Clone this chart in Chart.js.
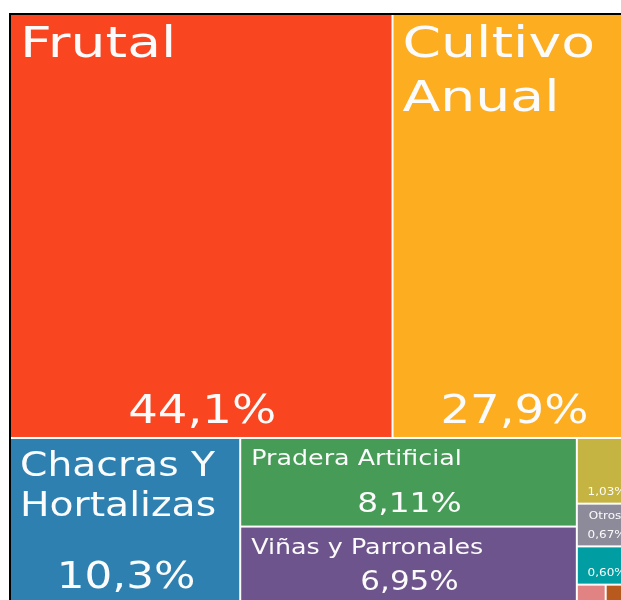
<!DOCTYPE html>
<html>
<head>
<meta charset="utf-8">
<script src="https://cdn.jsdelivr.net/npm/chart.js@4.4.1/dist/chart.umd.min.js"></script>
<style>
html,body{margin:0;padding:0;overflow:hidden;background:#ffffff;width:621px;height:600px}
#wrap{position:absolute;left:0;top:0;width:640px;height:606px}
</style>
</head>
<body>
<div id="wrap"><canvas id="c" width="640" height="606"></canvas></div>
<script>
// ---- data ----
const categories = ["Frutal", "Cultivo Anual", "Chacras Y Hortalizas", "Pradera Artificial", "Viñas y Parronales", "", "Otros", "", "", ""];
const shares = [44.1, 27.9, 10.3, 8.11, 6.95, 1.03, 0.67, 0.60, 0.14, 0.14];
const colors = ["#F94620", "#FCAE20", "#2D80B0", "#469B57", "#6E548C", "#C5B442", "#8D8B99", "#009EA2", "#E18283", "#B85A1E"];

// ---- treemap strip layout (order of strips and their orientation) ----
const STRIPS = [
  {dir: 'row', n: 2}, {dir: 'col', n: 1}, {dir: 'col', n: 2},
  {dir: 'row', n: 1}, {dir: 'row', n: 1}, {dir: 'row', n: 1}, {dir: 'row', n: 2}
];

function layout(values) {
  let x0 = 0, y0 = 0, x1 = 100, y1 = 100;
  let rem = values.reduce((a, b) => a + b, 0);
  const rects = [];
  let i = 0;
  for (const s of STRIPS) {
    const idx = [];
    for (let k = i; k < Math.min(i + s.n, values.length); k++) idx.push(k);
    const sv = idx.reduce((a, k) => a + values[k], 0);
    if (s.dir === 'row') {
      const h = (y1 - y0) * sv / rem;
      let x = x0;
      idx.forEach(k => {
        const w = (x1 - x0) * values[k] / sv;
        rects[k] = {x0: x, x1: x + w, y0: y0, y1: y0 + h};
        x += w;
      });
      y0 += h;
    } else {
      const w = (x1 - x0) * sv / rem;
      let y = y0;
      idx.forEach(k => {
        const h = (y1 - y0) * values[k] / sv;
        rects[k] = {x0: x0, x1: x0 + w, y0: y, y1: y + h};
        y += h;
      });
      x0 += w;
    }
    rem -= sv;
    i += s.n;
  }
  return rects;
}

const cells = layout(shares);

function fmtPct(v) {
  const s = v >= 10 ? v.toFixed(1) : v.toFixed(2);
  return s.replace('.', ',') + '%';
}

const FONT = '"DejaVu Sans"';

function tier(w, h) {
  const a = w * h;
  if (a >= 60000) return {t: 43.5, lh: 54, tb: 43, v: 39.5, vb: 15, pad: 10, sxT: 1.27, sxV: 1.18};
  if (a >= 33000) return {t: 33, lh: 40, tb: 38, v: 37, vb: 15, pad: 10, sxT: 1.19, sxV: 1.18};
  if (a >= 15000) return {t: 20.6, lh: 26, tb: 27, v: Math.min(27.4, 0.34 * h), vb: 0.17 * h, pad: 11, sxT: 1.23, sxV: 1.2};
  return {t: 10, lh: 12, tb: 15.5, v: 10, vb: 8.5, pad: 12, sxT: 1.2, sxV: 1.2};
}

function textW(ctx, str, size, sx) {
  ctx.font = size + 'px ' + FONT;
  return ctx.measureText(str).width * sx;
}

function drawText(ctx, str, x, y, size, align, sx) {
  ctx.save();
  ctx.font = size + 'px ' + FONT;
  ctx.translate(x, y);
  ctx.scale(sx, 1);
  ctx.textAlign = align;
  ctx.textBaseline = 'alphabetic';
  ctx.fillText(str, 0, 0);
  ctx.restore();
}

function wrap(ctx, str, size, maxW, sx) {
  const words = str.split(' ');
  const lines = [];
  let cur = '';
  words.forEach(w => {
    const test = cur ? cur + ' ' + w : w;
    if (textW(ctx, test, size, sx) <= maxW || !cur) cur = test;
    else { lines.push(cur); cur = w; }
  });
  if (cur) lines.push(cur);
  return lines.map(l => {
    if (textW(ctx, l, size, sx) <= maxW) return l;
    let t = l;
    while (t.length > 1 && textW(ctx, t + '...', size, sx) > maxW) t = t.slice(0, -1);
    return t + '...';
  });
}

const treemapPlugin = {
  id: 'treemapCells',
  afterDatasetsDraw(chart) {
    const ctx = chart.ctx;
    const xs = chart.scales.x, ys = chart.scales.y;
    const area = chart.chartArea;
    ctx.save();
    cells.forEach((r, k) => {
      const px0 = xs.getPixelForValue(r.x0), px1 = xs.getPixelForValue(r.x1);
      const py0 = ys.getPixelForValue(r.y0), py1 = ys.getPixelForValue(r.y1);
      const w = px1 - px0, h = py1 - py0;
      ctx.fillStyle = colors[k];
      ctx.fillRect(px0 + 1, py0 + 1, w - 2, h - 2);
      if (w < 25 || h < 20) return;
      const tr = tier(w, h);
      ctx.save();
      ctx.beginPath();
      ctx.rect(px0 + 1, py0 + 1, w - 2, h - 2);
      ctx.clip();
      ctx.fillStyle = '#fbfbfb';
      const name = categories[k];
      if (name) {
        const lines = wrap(ctx, name, tr.t, w - 2 * tr.pad, tr.sxT);
        lines.forEach((ln, li) => {
          drawText(ctx, ln, px0 + tr.pad, py0 + tr.tb + li * tr.lh, tr.t, 'left', tr.sxT);
        });
      }
      drawText(ctx, fmtPct(shares[k]), (px0 + px1) / 2 + 1, py1 - tr.vb, tr.v, 'center', tr.sxV);
      ctx.restore();
    });
    ctx.strokeStyle = '#000000';
    ctx.lineWidth = 2;
    ctx.strokeRect(area.left, area.top, area.right - area.left, area.bottom - area.top);
    ctx.restore();
  }
};

const centers = cells.map(r => ({x: (r.x0 + r.x1) / 2, y: (r.y0 + r.y1) / 2}));

new Chart(document.getElementById('c'), {
  type: 'scatter',
  data: {
    labels: categories,
    datasets: [{label: 'Participación', data: centers, pointRadius: 0, pointHoverRadius: 0}]
  },
  options: {
    responsive: false,
    animation: false,
    devicePixelRatio: 1,
    layout: {padding: {left: 10, top: 14, right: 5.5, bottom: 3.5}},
    scales: {
      x: {type: 'linear', min: 0, max: 100, display: false},
      y: {type: 'linear', min: 0, max: 100, reverse: true, display: false}
    },
    plugins: {legend: {display: false}, tooltip: {enabled: false}}
  },
  plugins: [treemapPlugin]
});
</script>
</body>
</html>
